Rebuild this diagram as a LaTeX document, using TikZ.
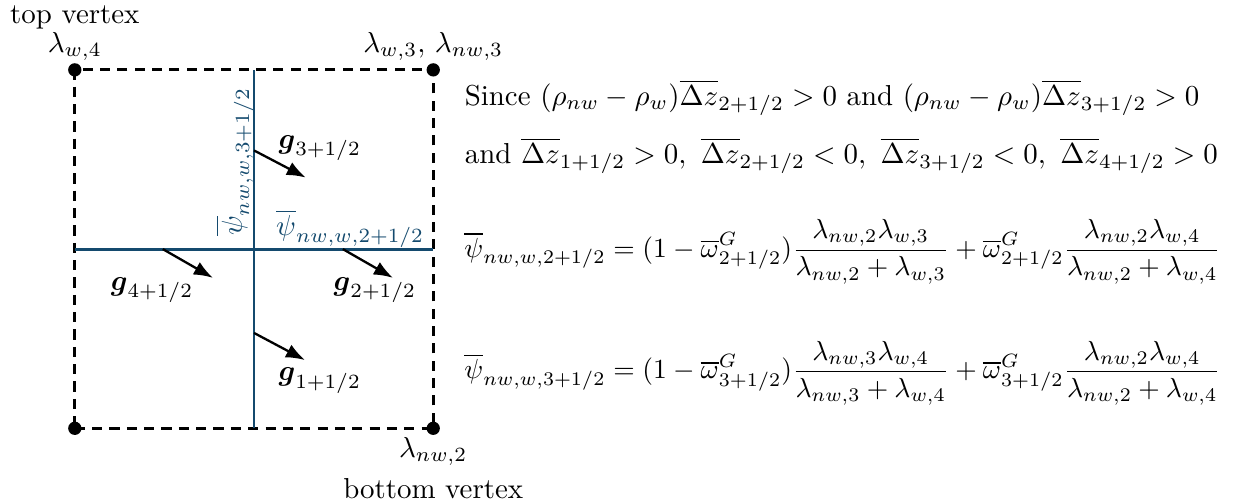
\documentclass[tikz,border=0pt]{standalone}
\usepackage{amsmath,amssymb}
\usepackage{tikz}
\usetikzlibrary{arrows.meta,positioning}

\definecolor{faceblue}{RGB}{20,74,110}

\begin{document}
\begin{tikzpicture}[
  vert/.style={circle,fill=black,inner sep=0pt,minimum size=4.6pt},
  cellside/.style={line width=1pt,dash pattern=on 3.5pt off 2.5pt},
  faceline/.style={faceblue,line width=1pt},
  garrow/.style={-{Latex},thick},
  facelabel/.style={text=faceblue},
  mobeq/.style={anchor=west,scale=0.955}]
  \def\side{4.36}\def\half{2.18}
  \useasboundingbox (-0.91,-0.89) rectangle (14.21,5.21);
  % cell vertices
  \node[vert] (v1) at (0,0) {};
  \node[vert] (v2) at (\side,0) {};
  \node[vert] (v3) at (\side,\side) {};
  \node[vert] (v4) at (0,\side) {};
  \draw[cellside] (v1.center) -- (v2.center) -- (v3.center) -- (v4.center) -- cycle;
  % faces between the sub-cells
  \coordinate (fl) at (0,\half);  \coordinate (fr) at (\side,\half);
  \coordinate (fb) at (\half,0);  \coordinate (ft) at (\half,\side);
  \draw[faceline] (fl) -- (fr);
  \draw[faceline] (fb) -- (ft);
  \node[facelabel] (psih) at (3.35,2.43) {$\overline{\psi}_{nw,w,2+1/2}$};
  \node[facelabel,rotate=90] (psiv) at (1.95,3.24) {$\overline{\psi}_{nw,w,3+1/2}$};
  % vertex labels
  \node[anchor=base] (lw4) at ([yshift=0.21cm]v4.center) {$\lambda_{w,4}$};
  \node[anchor=base] (top) at ([yshift=0.57cm]v4.center) {top vertex};
  \node[anchor=base] (lw3) at ([yshift=0.21cm]v3.center) {$\lambda_{w,3},\,\lambda_{nw,3}$};
  \node[anchor=base] (lnw2) at ([yshift=-0.35cm]v2.center) {$\lambda_{nw,2}$};
  \node[anchor=base] (bot) at ([yshift=-0.85cm]v2.center) {bottom vertex};
  % gravity at the faces
  \coordinate (g3s) at (\half,3.38);  \coordinate (g3e) at (2.81,3.05);
  \coordinate (g4s) at (1.07,\half);  \coordinate (g4e) at (1.68,1.83);
  \coordinate (g2s) at (3.26,\half);  \coordinate (g2e) at (3.87,1.83);
  \coordinate (g1s) at (\half,1.16);  \coordinate (g1e) at (2.80,0.83);
  \draw[garrow] (g3s) -- (g3e);
  \draw[garrow] (g4s) -- (g4e);
  \draw[garrow] (g2s) -- (g2e);
  \draw[garrow] (g1s) -- (g1e);
  \node (g3) at (2.98,3.41) {$\boldsymbol{g}_{3+1/2}$};
  \node (g4) at (0.94,1.68) {$\boldsymbol{g}_{4+1/2}$};
  \node (g2) at (3.65,1.68) {$\boldsymbol{g}_{2+1/2}$};
  \node (g1) at (2.98,0.58) {$\boldsymbol{g}_{1+1/2}$};
  % conditions and face mobilities
  \node[anchor=base west] (since) at (4.62,3.93)
   {Since $(\rho_{nw}-\rho_w)\overline{\Delta z}_{2+1/2}>0$ and $(\rho_{nw}-\rho_w)\overline{\Delta z}_{3+1/2}>0$};
  \node[anchor=base west] (signs) at (4.62,3.22)
   {and $\overline{\Delta z}_{1+1/2}>0,\ \overline{\Delta z}_{2+1/2}<0,\ \overline{\Delta z}_{3+1/2}<0,\ \overline{\Delta z}_{4+1/2}>0$};
  \node[mobeq] (eqa) at (4.62,2.15)
   {$\displaystyle \overline{\psi}_{nw,w,2+1/2}=(1-\overline{\omega}^G_{2+1/2})\frac{\lambda_{nw,2}\lambda_{w,3}}{\lambda_{nw,2}+\lambda_{w,3}}+\overline{\omega}^G_{2+1/2}\frac{\lambda_{nw,2}\lambda_{w,4}}{\lambda_{nw,2}+\lambda_{w,4}}$};
  \node[mobeq] (eqb) at (4.62,0.67)
   {$\displaystyle \overline{\psi}_{nw,w,3+1/2}=(1-\overline{\omega}^G_{3+1/2})\frac{\lambda_{nw,3}\lambda_{w,4}}{\lambda_{nw,3}+\lambda_{w,4}}+\overline{\omega}^G_{3+1/2}\frac{\lambda_{nw,2}\lambda_{w,4}}{\lambda_{nw,2}+\lambda_{w,4}}$};
\end{tikzpicture}
\end{document}
